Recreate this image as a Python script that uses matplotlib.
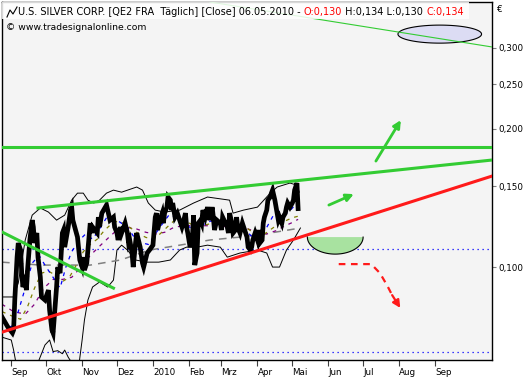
import numpy as np
import pandas as pd
import matplotlib
matplotlib.use('Agg')
import matplotlib.pyplot as plt
from matplotlib.patches import Rectangle
from matplotlib.lines import Line2D

plt.rcParams['font.family'] = ['DejaVu Sans']

START = pd.Timestamp('2009-08-24')   # Tag 0 der x-Achse

# SCHLUSSKURSE (Tage seit 24.08.2009, Euro)
kurs_tage = [0, 3, 5, 9, 10, 11, 13, 14, 16, 17, 18, 20, 21, 22, 24, 26, 27, 28, 30, 31,
             33, 34, 37, 40, 41, 43, 44, 46, 47, 48, 50, 52, 53, 54, 57, 59, 60, 61, 65, 67,
             69, 70, 71, 73, 74, 76, 77, 78, 82, 83, 84, 86, 89, 90, 91, 93, 96, 97, 99, 100,
             102, 103, 106, 108, 109, 110, 112, 113, 115, 116, 119, 121, 122, 125, 127, 130, 132, 133, 134, 136,
             138, 139, 140, 142, 143, 145, 146, 147, 149, 151, 153, 155, 156, 158, 159, 160, 162, 164, 165, 166,
             168, 169, 171, 172, 173, 175, 177, 179, 181, 182, 183, 185, 188, 189, 190, 194, 195, 196, 198, 199,
             201, 202, 203, 205, 207, 209, 211, 212, 214, 215, 216, 218, 220, 221, 222, 224, 225, 226, 228, 229,
             231, 232, 233, 235, 237, 238, 239, 241, 242, 244, 245, 246, 248, 250, 251, 252, 254, 255]
kurs = [0.0779, 0.0756, 0.0741, 0.0719, 0.0730, 0.0848, 0.1051, 0.1128, 0.1089, 0.0970,
        0.0905, 0.0937, 0.0891, 0.0985, 0.1145, 0.1265, 0.1222, 0.1128, 0.1186, 0.1051,
        0.0951, 0.0861, 0.0848, 0.0891, 0.0806, 0.0730, 0.0719, 0.0835, 0.0905, 0.1000,
        0.0970, 0.1186, 0.1204, 0.1105, 0.1222, 0.1330, 0.1350, 0.1265, 0.1162, 0.1036,
        0.1000, 0.1051, 0.0985, 0.1020, 0.1089, 0.1246, 0.1186, 0.1222, 0.1186, 0.1284,
        0.1222, 0.1310, 0.1350, 0.1364, 0.1330, 0.1265, 0.1284, 0.1222, 0.1186, 0.1145,
        0.1222, 0.1186, 0.1246, 0.1186, 0.1128, 0.1145, 0.1073, 0.1000, 0.1128, 0.1186,
        0.1105, 0.1020, 0.1000, 0.1073, 0.1089, 0.1116, 0.1284, 0.1310, 0.1204, 0.1265,
        0.1310, 0.1246, 0.1310, 0.1350, 0.1420, 0.1398, 0.1330, 0.1378, 0.1284, 0.1310,
        0.1265, 0.1222, 0.1246, 0.1310, 0.1222, 0.1186, 0.1105, 0.1162, 0.1297, 0.1010,
        0.1073, 0.1246, 0.1265, 0.1246, 0.1330, 0.1284, 0.1350, 0.1265, 0.1350, 0.1284,
        0.1204, 0.1265, 0.1246, 0.1204, 0.1284, 0.1222, 0.1186, 0.1310, 0.1246, 0.1186,
        0.1204, 0.1284, 0.1222, 0.1186, 0.1246, 0.1204, 0.1162, 0.1105, 0.1089, 0.1105,
        0.1145, 0.1186, 0.1145, 0.1204, 0.1128, 0.1145, 0.1246, 0.1284, 0.1330, 0.1398,
        0.1420, 0.1448, 0.1470, 0.1398, 0.1310, 0.1265, 0.1284, 0.1246, 0.1284, 0.1310,
        0.1350, 0.1378, 0.1350, 0.1378, 0.1398, 0.1470, 0.1523, 0.1340]

# BOLLINGER BAENDER
bb_oben_tage = [0, 10, 14, 20, 26, 33, 40, 47, 54, 60, 65, 70, 74, 79, 84, 90, 96, 103,
                116, 121, 126, 132, 140, 153, 165, 177, 196, 199, 208, 220, 231, 237, 248, 254, 256]
bb_oben = [0.0861, 0.0861, 0.0923, 0.1145, 0.1297, 0.1344, 0.1317, 0.1265, 0.1297, 0.1398,
           0.1448, 0.1448, 0.1398, 0.1378, 0.1398, 0.1448, 0.1470, 0.1455,
           0.1493, 0.1470, 0.1378, 0.1330, 0.1317, 0.1330, 0.1378, 0.1420, 0.1398, 0.1310,
           0.1330, 0.1350, 0.1448, 0.1493, 0.1523, 0.1507, 0.1455]
bb_unten_tage = [0, 8, 10, 13, 22, 31, 37, 41, 44, 48, 52, 54, 57, 60, 65, 69, 71, 74, 78,
                 84, 91, 96, 99, 103, 108, 115, 125, 135, 145, 153, 159, 168, 177, 188, 194,
                 205, 220, 228, 233, 239, 245, 251, 257]
bb_unten = [0.0704, 0.0694, 0.0660, 0.0600, 0.0560, 0.0620, 0.0677, 0.0694, 0.0655, 0.0658,
            0.0648, 0.0660, 0.0637, 0.0620, 0.0580, 0.0694, 0.0767, 0.0848, 0.0905,
            0.0928, 0.0905, 0.0937, 0.1089, 0.1116, 0.1089, 0.1036, 0.1025, 0.1025, 0.1036,
            0.1089, 0.1105, 0.1105, 0.1116, 0.1105, 0.1051, 0.1073, 0.1089, 0.1073, 0.1000,
            0.1000, 0.1089, 0.1145, 0.1216]

# GLEITENDE DURCHSCHNITTE
gd_blau_tage = [0, 8, 14, 20, 26, 32, 38, 44, 50, 55, 60, 66, 72, 78, 84, 90, 96, 102, 108,
                114, 120, 126, 132, 138, 144, 150, 156, 162, 168, 174, 180, 186, 192, 198,
                204, 210, 216, 222, 228, 234, 240, 246, 252, 255]
gd_blau = [0.076, 0.074, 0.080, 0.090, 0.102, 0.106, 0.100, 0.095, 0.090, 0.100, 0.108,
           0.114, 0.118, 0.115, 0.121, 0.128, 0.128, 0.125, 0.122, 0.116, 0.113, 0.112,
           0.118, 0.124, 0.130, 0.128, 0.124, 0.122, 0.120, 0.124, 0.126, 0.124, 0.122,
           0.121, 0.122, 0.120, 0.116, 0.115, 0.122, 0.130, 0.133, 0.131, 0.136, 0.138]
gd_oliv_tage = [0, 10, 16, 22, 28, 34, 40, 46, 52, 58, 64, 70, 76, 82, 88, 94, 100, 106,
                112, 118, 124, 130, 136, 142, 148, 154, 160, 166, 172, 178, 184, 190, 196,
                202, 208, 214, 220, 226, 232, 238, 244, 250, 255]
gd_oliv = [0.080, 0.078, 0.077, 0.082, 0.090, 0.097, 0.098, 0.096, 0.093, 0.095, 0.101,
           0.108, 0.112, 0.115, 0.120, 0.124, 0.126, 0.124, 0.121, 0.118, 0.116, 0.115,
           0.118, 0.122, 0.126, 0.126, 0.125, 0.123, 0.123, 0.124, 0.125, 0.124, 0.123,
           0.123, 0.123, 0.120, 0.118, 0.118, 0.121, 0.124, 0.126, 0.128, 0.129]
gd_lila_tage = [0, 10, 20, 28, 36, 44, 52, 60, 68, 76, 84, 92, 100, 108, 116, 124, 132, 140,
                148, 156, 164, 172, 180, 188, 196, 204, 212, 220, 228, 236, 244, 250, 255]
gd_lila = [0.083, 0.080, 0.079, 0.083, 0.090, 0.094, 0.094, 0.095, 0.100, 0.106, 0.111,
           0.116, 0.121, 0.122, 0.121, 0.119, 0.118, 0.119, 0.122, 0.123, 0.123, 0.123,
           0.123, 0.123, 0.122, 0.122, 0.121, 0.119, 0.118, 0.120, 0.123, 0.125, 0.127]
gd_grau_tage = [0, 33, 76, 102, 127, 153, 179, 205, 231, 257]
gd_grau = [0.1025, 0.1010, 0.1010, 0.1036, 0.1089, 0.1116, 0.1145, 0.1162, 0.1186, 0.1216]

# HORIZONTALE LINIEN (blau gepunktet)
hlinien = [0.1093, 0.0653]

# TRENDLINIEN (Start-/Endpunkt)
rot_tage, rot_kurs = [0, 422], [0.0722, 0.1577]
gruen_oben_tage, gruen_oben_kurs = [31, 422], [0.1344, 0.1709]
gruen_horiz = 0.1824
gruen_fall_tage, gruen_fall_kurs = [0, 96], [0.1192, 0.0900]
gruen_duenn_tage, gruen_duenn_kurs = [179, 422], [0.377, 0.301]

# PFEILE UND MARKIERUNGEN
pfeile_gruen = [((322, 0.170), (343.5, 0.2087)), ((281.5, 0.1364), (303, 0.1441))]
rot_pfeil_tage = [290, 318, 325.5, 331.5, 336, 343]
rot_pfeil_kurs = [0.1015, 0.1015, 0.0970, 0.0914, 0.0869, 0.0815]
ellipse = (377, 0.321, 36, 0.0196)      # Mitte Tag, Mitte Kurs, Halbachse Tage, Halbachse Dekaden
halbkreis = (287, 0.1162, 24, 0.037)

# ACHSEN
monate = pd.date_range('2009-09-01', '2010-09-01', freq='MS')
monat_namen = ['Sep', 'Okt', 'Nov', 'Dez', '2010', 'Feb', 'Mrz', 'Apr', 'Mai', 'Jun', 'Jul', 'Aug', 'Sep']
y_ticks = [0.10, 0.15, 0.20, 0.25, 0.30]

GRUEN = '#33cc33'
ROT = '#ff1a1a'
FS = 6.3        # Achsen
FS_TITEL = 7.0


def ellipse_log(cx, cy, a, b, t0, t1, n=120):
    t = np.linspace(t0, t1, n)
    return cx + a * np.cos(t), cy * 10 ** (b * np.sin(t))


W, H = 531, 380
fig = plt.figure(figsize=(W / 100, H / 100), dpi=100)
ax = fig.add_axes([2 / W, 20 / H, 490 / W, 358 / H])
ax.set_facecolor('#f4f4f4')
ax.set_yscale('log')
ax.set_xlim(0, 422)
ax.set_ylim(0.0628, 0.377)

for h in hlinien:
    ax.axhline(h, color='#0000ff', lw=0.9, ls=(0, (1, 3)), zorder=1)

ax.plot(bb_oben_tage, bb_oben, color='black', lw=0.7, zorder=2)
ax.plot(bb_unten_tage, bb_unten, color='black', lw=0.7, zorder=2)

ax.plot(gd_grau_tage, gd_grau, color='#808080', lw=1.1, ls=(0, (5, 4)), zorder=2)
ax.plot(gd_lila_tage, gd_lila, color='#800080', lw=0.9, ls=(0, (3, 4)), zorder=2)
ax.plot(gd_oliv_tage, gd_oliv, color='#808000', lw=0.9, ls=(0, (3, 4)), zorder=2)
ax.plot(gd_blau_tage, gd_blau, color='#0000ff', lw=0.9, ls=(0, (3, 4)), zorder=2)

ax.plot(kurs_tage, kurs, color='black', lw=3.4, solid_joinstyle='miter', zorder=3)

# Ellipse oben rechts
ex, ey = ellipse_log(*ellipse, 0, 2 * np.pi)
ax.fill(ex, ey, facecolor='#dcdcf4', edgecolor='black', lw=0.8, zorder=4)

# Trendlinien
ax.plot(rot_tage, rot_kurs, color=ROT, lw=2.2, zorder=5)
ax.plot(gruen_oben_tage, gruen_oben_kurs, color=GRUEN, lw=2.2, zorder=5)
ax.axhline(gruen_horiz, color=GRUEN, lw=2.2, zorder=5)
ax.plot(gruen_fall_tage, gruen_fall_kurs, color=GRUEN, lw=2.2, zorder=5)
ax.plot(gruen_duenn_tage, gruen_duenn_kurs, color=GRUEN, lw=0.8, zorder=5)

# Halbkreis (Unterstuetzung)
hx, hy = ellipse_log(*halbkreis, np.pi, 2 * np.pi)
ax.fill(hx, hy, facecolor='#a8e2a0', edgecolor='none', zorder=5)
ax.plot(hx, hy, color='black', lw=0.8, zorder=5)

# Pfeile
for start, ende in pfeile_gruen:
    ax.annotate('', xy=ende, xytext=start,
                arrowprops=dict(arrowstyle='-|>', color=GRUEN, lw=2.0, mutation_scale=11,
                                shrinkA=0, shrinkB=0), zorder=6)
ax.plot(rot_pfeil_tage[:-1], rot_pfeil_kurs[:-1], color=ROT, lw=1.6, ls=(0, (3, 2.5)), zorder=6)
ax.annotate('', xy=(rot_pfeil_tage[-1], rot_pfeil_kurs[-1]),
            xytext=(rot_pfeil_tage[-2], rot_pfeil_kurs[-2]),
            arrowprops=dict(arrowstyle='-|>', color=ROT, lw=1.6, mutation_scale=11,
                            shrinkA=0, shrinkB=0), zorder=6)

# Achsen
ax.yaxis.tick_right()
ax.yaxis.set_minor_locator(plt.NullLocator())
ax.set_yticks(y_ticks)
ax.set_yticklabels([f'{v:.3f}'.replace('.', ',') for v in y_ticks])
ax.tick_params(axis='y', which='major', length=3, color='#808080', labelsize=FS, pad=1.5)

monat_tage = [(m - START).days for m in monate]
ax.set_xticks(monat_tage)
ax.set_xticklabels(monat_namen)
ax.xaxis.set_minor_locator(plt.NullLocator())
ax.tick_params(axis='x', length=4, color='#404040', labelsize=FS, pad=2)
for lbl in ax.get_xticklabels():
    lbl.set_ha('left')

for sp in ax.spines.values():
    sp.set_color('black')
    sp.set_linewidth(1.0)

# Titel
ax.add_patch(Rectangle((0, 1 - 17 / 358), 467 / 490, 17 / 358, transform=ax.transAxes,
                       facecolor='white', edgecolor='none', alpha=0.85, zorder=7))
ax.add_line(Line2D(np.array([5, 8, 11, 15]) / 490, 1 - np.array([15, 8, 12, 5]) / 358,
                   transform=ax.transAxes, color='black', lw=0.8, zorder=8))
teile = [('U.S. SILVER CORP. [QE2 FRA  Täglich] [Close] 06.05.2010 - ', 'black'),
         ('O:0,130', '#ff0000'), (' H:0,134 L:0,130 ', 'black'), ('C:0,134', '#ff0000')]
t = ax.text(16 / 490, 1 - 10 / 358, teile[0][0], transform=ax.transAxes, fontsize=FS_TITEL,
            va='center', ha='left', color=teile[0][1], zorder=8)
for s, c in teile[1:]:
    t = ax.annotate(s, xy=(1, 0), xycoords=t, va='bottom', ha='left', color=c,
                    fontsize=FS_TITEL, zorder=8)
ax.text(4 / 490, 1 - 26 / 358, '© www.tradesignalonline.com', transform=ax.transAxes,
        fontsize=6.7, va='center', ha='left', zorder=8)

fig.text(497 / W, 1 - 10 / H, '€', fontsize=FS, va='center', ha='left')

fig.savefig('out.png', dpi=100, facecolor='white')
